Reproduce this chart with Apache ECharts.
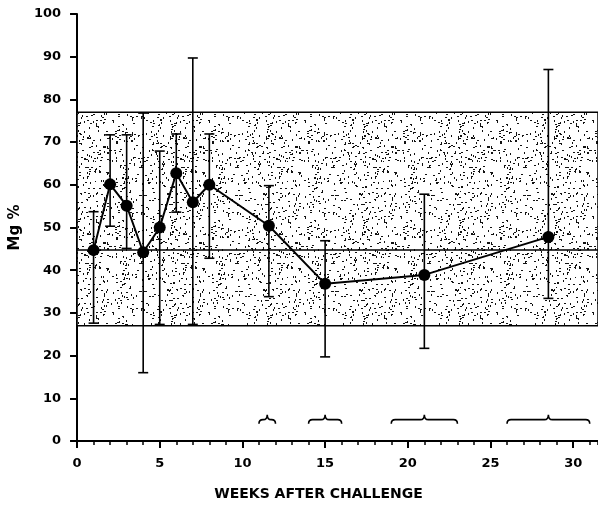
<!DOCTYPE html>
<html>
<head>
<meta charset="utf-8">
<style>
  html, body { margin: 0; padding: 0; background: #fff; }
  #chart { width: 598px; height: 512px; }
</style>
<script src="https://cdn.jsdelivr.net/npm/echarts/dist/echarts.min.js"></script>
</head>
<body>
<div id="chart"></div>
<script>
// Serum Mg% after challenge: group means with ranges
const weeks = [1, 2, 3, 4, 5, 6, 7, 8, 11.6, 15, 21, 28.5];
const means = [44.7, 60.1, 55.1, 44.2, 50, 62.7, 55.9, 60, 50.4, 36.8, 38.9, 47.8];
const upper = [53.7, 71.7, 71.7, 76.8, 67.9, 71.9, 89.7, 71.9, 59.8, 46.9, 57.8, 87];
const lower = [27.6, 50.3, 45.1, 16, 27.3, 53.6, 27.3, 42.8, 33.8, 19.7, 21.7, 33.4];

// Normal range (stippled band) and its mean
const normalLow = 27;
const normalMean = 44.8;
const normalHigh = 77;

// Sampling windows marked with braces near the x axis
const spanStart = [11, 14, 19, 26];
const spanEnd = [12, 16, 23, 31];
const braceLevel = 5;

const xTicks = [0, 5, 10, 15, 20, 25, 30];
const yTicks = [0, 10, 20, 30, 40, 50, 60, 70, 80, 90, 100];

const FONT = 'DejaVu Sans';

// Stipple texture for the normal band (deterministic speckle)
function makeStipple() {
  const size = 96;
  const c = document.createElement('canvas');
  c.width = size; c.height = size;
  const ctx = c.getContext('2d');
  ctx.fillStyle = '#ffffff';
  ctx.fillRect(0, 0, size, size);
  ctx.fillStyle = '#111';
  let s = 12345;
  const next = () => { s = (s * 1103515245 + 12345) & 0x7fffffff; return s / 0x7fffffff; };
  for (let i = 0; i < 420; i++) {
    const x = Math.floor(next() * size);
    const y = Math.floor(next() * size);
    const vertical = next() < 0.5;
    ctx.fillRect(x, y, vertical ? 1 : 2, vertical ? 2 : 1);
  }
  return c;
}

const chart = echarts.init(document.getElementById('chart'), null, { renderer: 'canvas' });

const lineData = weeks.map((w, i) => [w, means[i]]);
const barData = weeks.map((w, i) => [w, lower[i], upper[i]]);
const braceData = spanStart.map((s, i) => [s, spanEnd[i], braceLevel]);

const black = '#000';

const option = {
  animation: false,
  backgroundColor: '#fff',
  grid: { left: 76, right: 0, top: 14, bottom: 71, containLabel: false },
  xAxis: [
    {
      type: 'value', min: 0, max: 31.5, interval: 5, position: 'bottom',
      axisLine: { show: true, lineStyle: { color: black, width: 2 } },
      axisTick: { show: true, inside: false, length: 7, lineStyle: { color: black, width: 2 } },
      axisLabel: {
        show: true, margin: 16, color: black, fontFamily: FONT, fontWeight: 'bold', fontSize: 13,
        showMaxLabel: false,
        formatter: v => (xTicks.indexOf(v) >= 0 ? String(v) : '')
      },
      splitLine: { show: false },
      name: 'WEEKS AFTER CHALLENGE',
      nameLocation: 'middle',
      nameGap: 46,
      nameTextStyle: { color: black, fontFamily: FONT, fontWeight: 'bold', fontSize: 14, padding: [0, 38, 0, 0] }
    },
    {
      // week-by-week minor ticks
      type: 'value', min: 0, max: 31.5, interval: 1, position: 'bottom', offset: 0,
      axisLine: { show: false },
      axisTick: { show: true, inside: false, length: 4, lineStyle: { color: black, width: 1.5 } },
      axisLabel: { show: false },
      splitLine: { show: false }
    }
  ],
  yAxis: {
    type: 'value', min: 0, max: 100, interval: 10,
    axisLine: { show: true, lineStyle: { color: black, width: 2 } },
    axisTick: { show: true, inside: false, length: 7, lineStyle: { color: black, width: 2 } },
    axisLabel: {
      margin: 16, color: black, fontFamily: FONT, fontWeight: 'bold', fontSize: 13,
      formatter: v => (yTicks.indexOf(v) >= 0 ? String(v) : '')
    },
    splitLine: { show: false },
    name: 'Mg %',
    nameLocation: 'middle',
    nameGap: 52,
    nameRotate: 90,
    nameTextStyle: { color: black, fontFamily: FONT, fontWeight: 'bold', fontSize: 15 }
  },
  series: [
    {
      // normal range band and its mean line
      type: 'line', data: [], z: 1, silent: true,
      markArea: {
        silent: true,
        itemStyle: {
          color: { image: makeStipple(), repeat: 'repeat' },
          borderColor: black, borderWidth: 1.5
        },
        data: [[{ yAxis: normalLow }, { yAxis: normalHigh }]]
      },
      markLine: {
        silent: true, symbol: 'none', label: { show: false },
        lineStyle: { color: black, width: 1.5, type: 'solid' },
        data: [{ yAxis: normalMean }]
      }
    },
    {
      // range bars
      type: 'custom', z: 3, silent: true,
      data: barData,
      encode: { x: 0, y: [1, 2] },
      renderItem: (params, api) => {
        const x = api.value(0);
        const pLo = api.coord([x, api.value(1)]);
        const pHi = api.coord([x, api.value(2)]);
        const cap = 5;
        const st = { stroke: black, lineWidth: 1.6 };
        return {
          type: 'group',
          children: [
            { type: 'line', shape: { x1: pLo[0], y1: pLo[1], x2: pHi[0], y2: pHi[1] }, style: st },
            { type: 'line', shape: { x1: pLo[0] - cap, y1: pLo[1], x2: pLo[0] + cap, y2: pLo[1] }, style: st },
            { type: 'line', shape: { x1: pHi[0] - cap, y1: pHi[1], x2: pHi[0] + cap, y2: pHi[1] }, style: st }
          ]
        };
      }
    },
    {
      // braces marking sampling windows
      type: 'custom', z: 3, silent: true,
      data: braceData,
      encode: { x: [0, 1], y: 2 },
      renderItem: (params, api) => {
        const a = api.coord([api.value(0), api.value(2)]);
        const b = api.coord([api.value(1), api.value(2)]);
        const y = a[1];
        const x1 = a[0], x2 = b[0], xm = (x1 + x2) / 2;
        const r = Math.min(4, (x2 - x1) / 4);
        const d = 'M' + x1 + ' ' + (y + 4) +
          ' Q' + x1 + ' ' + y + ' ' + (x1 + r) + ' ' + y +
          ' L' + (xm - r) + ' ' + y +
          ' Q' + xm + ' ' + y + ' ' + xm + ' ' + (y - 5) +
          ' Q' + xm + ' ' + y + ' ' + (xm + r) + ' ' + y +
          ' L' + (x2 - r) + ' ' + y +
          ' Q' + x2 + ' ' + y + ' ' + x2 + ' ' + (y + 4);
        return {
          type: 'path',
          shape: { pathData: d },
          style: { stroke: black, lineWidth: 1.6, fill: null }
        };
      }
    },
    {
      // group means
      type: 'line', z: 4, silent: true,
      data: lineData,
      symbol: 'circle', symbolSize: 12,
      itemStyle: { color: black },
      lineStyle: { color: black, width: 2 }
    }
  ]
};

chart.setOption(option);
</script>
</body>
</html>
